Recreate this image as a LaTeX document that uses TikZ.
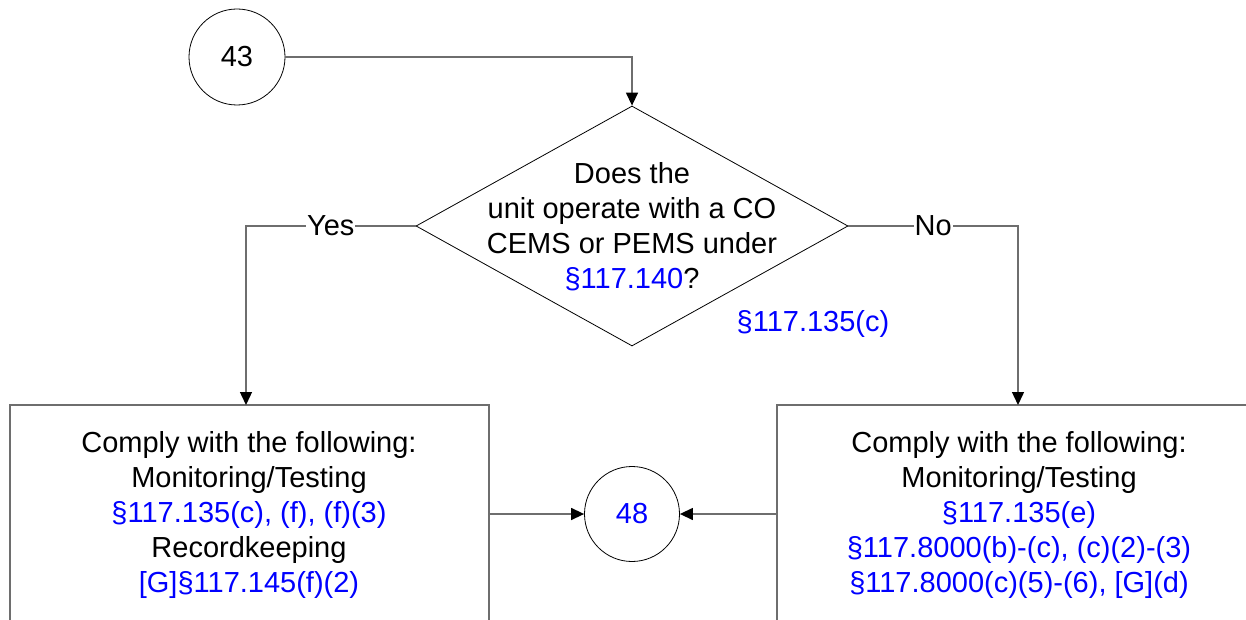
\documentclass[tikz,border=0pt]{standalone}
\usepackage{fontspec}
\setmainfont{Liberation Sans}
\usetikzlibrary{arrows.meta,shapes.geometric}
\definecolor{refblue}{RGB}{0,0,255}
\definecolor{linegray}{RGB}{110,110,110}
\begin{document}
\begin{tikzpicture}[x=1pt,y=-1pt,
  txt/.style={font=\fontsize{29}{35}\selectfont, align=center, inner sep=0pt},
  conn/.style={draw=linegray, line width=1.4pt},
  arr/.style={conn, -{Triangle[length=13pt,width=12pt,color=black]}},
  outline/.style={draw=black, line width=0.8pt},
  boxst/.style={draw=linegray, line width=1.4pt, rectangle, inner sep=0pt},
  lbl/.style={font=\fontsize{29}{35}\selectfont, fill=white, inner sep=1pt}
]
\useasboundingbox (0,0) rectangle (1246,620);
\clip (0,0) rectangle (1246,620);

\node[outline, circle, minimum size=96pt, inner sep=0pt, font=\fontsize{29}{35}\selectfont] (c43) at (237,57) {43};
\node[outline, diamond, minimum width=432pt, minimum height=240pt, inner sep=0pt, shape aspect=1.78] (dia) at (632,226) {};
\node[txt] (qtext) at (632,227) {Does the\\unit operate with a CO\\CEMS or PEMS under\\\textcolor{refblue}{§117.140}?};
\node[txt, text=refblue] (ref) at (813,324) {§117.135(c)};

\node[boxst, minimum width=479pt, minimum height=260pt] (lbox) at (249.5,535) {};
\node[boxst, minimum width=523pt, minimum height=260pt] (rbox) at (1038.5,535) {};
\node[txt] (ltext) at (249,515) {Comply with the following:\\Monitoring/Testing\\\textcolor{refblue}{§117.135(c), (f), (f)(3)}\\Recordkeeping\\\textcolor{refblue}{[G]§117.145(f)(2)}};
\node[txt] (rtext) at (1019,515) {Comply with the following:\\Monitoring/Testing\\\textcolor{refblue}{§117.135(e)}\\\textcolor{refblue}{§117.8000(b)-(c), (c)(2)-(3)}\\\textcolor{refblue}{§117.8000(c)(5)-(6), [G](d)}};

\node[outline, circle, minimum size=95pt, inner sep=0pt, font=\fontsize{29}{35}\selectfont, text=refblue] (c48) at (632,514) {48};

\coordinate (ycorner) at (246,226);
\coordinate (ncorner) at (1018,226);
\coordinate (yend) at (246,405);
\coordinate (nend) at (1018,405);
\coordinate (tcorner) at (632,57);

\draw[arr] (c43.east) -- (tcorner) -- (dia.north);
\draw[arr] (dia.west) -- node[lbl, pos=0.5] {Yes} (ycorner) -- (yend);
\draw[arr] (dia.east) -- node[lbl, pos=0.5] {No} (ncorner) -- (nend);
\draw[arr] (lbox.east |- c48) -- (c48.west);
\draw[arr] (rbox.west |- c48) -- (c48.east);
\end{tikzpicture}
\end{document}
